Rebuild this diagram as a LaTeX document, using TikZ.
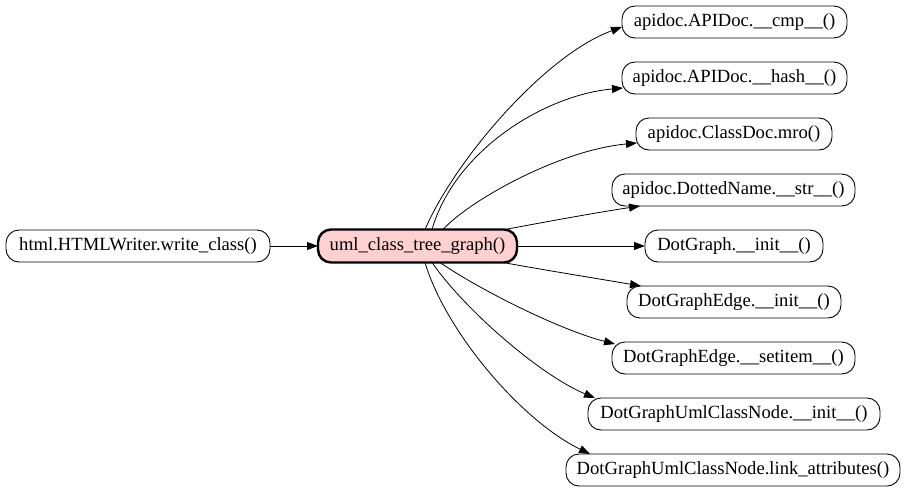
\documentclass[tikz,border=0pt]{standalone}
\usepackage{fontspec}
\setmainfont{Liberation Serif}
\usetikzlibrary{arrows.meta}
\definecolor{umlpink}{RGB}{255,208,208}
\tikzset{
  fn/.style={draw=black, line width=0.9pt, rounded corners=13pt, minimum height=32pt, inner sep=0pt, outer sep=0pt, font=\fontsize{18.6}{20}\selectfont, anchor=center},
  focus/.style={fn, fill=umlpink, line width=2.4pt, minimum height=33pt},
  edge/.style={draw=black, line width=0.8pt, -{Triangle[length=11pt,width=8pt]}},
}
\begin{document}
\begin{tikzpicture}[x=1pt,y=-1pt]
\useasboundingbox (0,0) rectangle (907,491);
\node[fn, minimum width=264pt] (h) at (138,246) {html.HTMLWriter.write\_class()};
\node[focus, minimum width=199pt] (u) at (417.5,246) {uml\_class\_tree\_graph()};
\node[fn, minimum width=225pt] (c1) at (734.5,22) {apidoc.APIDoc.\_\_cmp\_\_()};
\node[fn, minimum width=225pt] (c2) at (734.5,78) {apidoc.APIDoc.\_\_hash\_\_()};
\node[fn, minimum width=196pt] (m) at (734,134) {apidoc.ClassDoc.mro()};
\node[fn, minimum width=243pt] (dn) at (733.5,190) {apidoc.DottedName.\_\_str\_\_()};
\node[fn, minimum width=178pt] (dg) at (734,246) {DotGraph.\_\_init\_\_()};
\node[fn, minimum width=214pt] (e1) at (734,302) {DotGraphEdge.\_\_init\_\_()};
\node[fn, minimum width=243pt] (s) at (733.5,358) {DotGraphEdge.\_\_setitem\_\_()};
\node[fn, minimum width=292pt] (ui) at (734,414) {DotGraphUmlClassNode.\_\_init\_\_()};
\node[fn, minimum width=334pt] (la) at (733,470) {DotGraphUmlClassNode.link\_attributes()};

\draw[edge] (h.east) -- (u.west);
\draw[edge] ([xshift=107pt]u.north west) .. controls (455,160) and (545,55) .. ([xshift=0pt,yshift=-5pt]c1.west);
\draw[edge] ([xshift=114pt]u.north west) .. controls (455,150) and (545,95) .. ([xshift=1pt,yshift=-10pt]c2.west);
\draw[edge] ([xshift=125pt]u.north west) .. controls (470,200) and (560,150) .. ([xshift=1pt,yshift=-9pt]m.west);
\draw[edge] ([xshift=187pt]u.north west) .. controls (550,221) and (600,212) .. ([xshift=28pt]dn.south west);
\draw[edge] (u.east) -- (dg.west);
\draw[edge] ([xshift=185pt]u.south west) .. controls (550,271) and (600,279) .. ([xshift=14pt]e1.north west);
\draw[edge] ([xshift=122pt]u.south west) .. controls (480,290) and (560,330) .. ([xshift=3pt,yshift=-2pt]s.north west);
\draw[edge] ([xshift=114pt]u.south west) .. controls (465,310) and (540,375) .. ([xshift=7pt]ui.north west);
\draw[edge] ([xshift=107pt]u.south west) .. controls (445,330) and (520,420) .. ([xshift=24pt]la.north west);
\end{tikzpicture}
\end{document}
